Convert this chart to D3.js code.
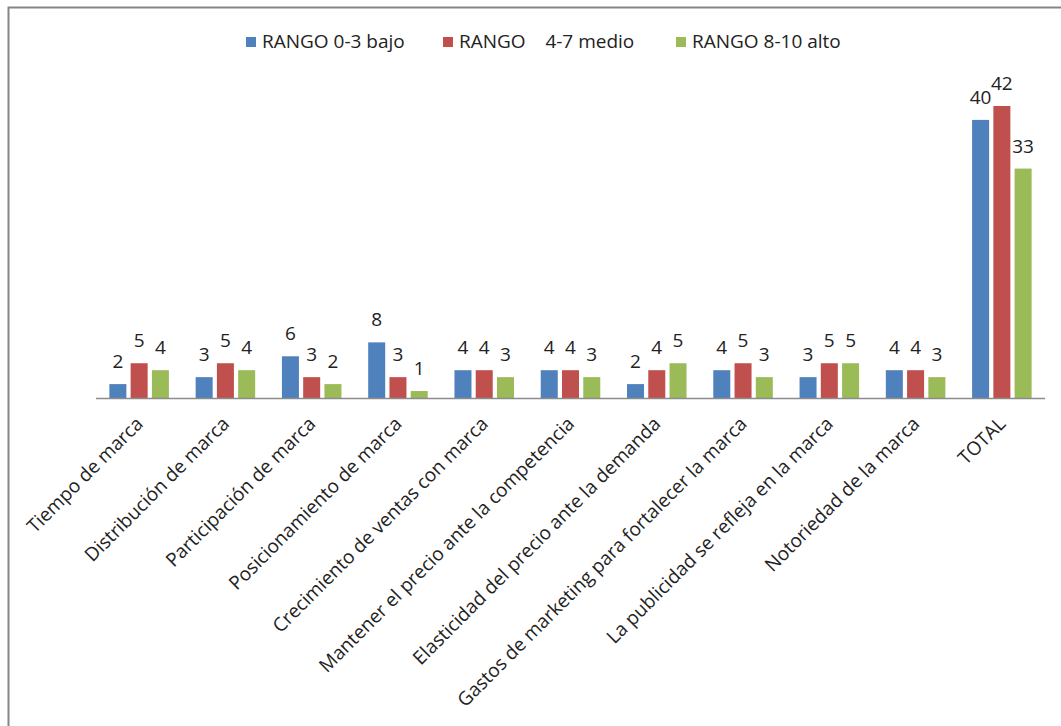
<!DOCTYPE html>
<html>
<head>
<meta charset="utf-8">
<script src="https://cdn.jsdelivr.net/npm/d3@7"></script>
<style>
  body { margin: 0; background: #fff; }
  svg text { font-family: "Open Sans", Lato, sans-serif; fill: #222; }
</style>
</head>
<body>
<svg id="chart" width="1061" height="726"></svg>
<script>
/*** DATA ***/
var categories = ['Tiempo de marca', 'Distribución de marca', 'Participación de marca',
  'Posicionamiento de marca', 'Crecimiento de ventas con marca',
  'Mantener el precio ante la competencia', 'Elasticidad del precio ante la demanda',
  'Gastos de marketing para fortalecer la marca', 'La publicidad se refleja en la marca',
  'Notoriedad de la marca', 'TOTAL'];
var seriesNames = ['RANGO 0-3 bajo', 'RANGO    4-7 medio', 'RANGO 8-10 alto'];
var bajo  = [2, 3, 6, 8, 4, 4, 2, 4, 3, 4, 40];
var medio = [5, 5, 3, 3, 4, 4, 4, 5, 5, 4, 42];
var alto  = [4, 4, 2, 1, 3, 3, 5, 3, 5, 3, 33];
var seriesValues = [bajo, medio, alto];
var colors = ['#4F81BD', '#C0504D', '#9BBB59'];

var svg = d3.select('#chart');

//frame
svg.append('rect')
  .attr('x', 8.5).attr('y', 7.5)
  .attr('width', 1100).attr('height', 800)
  .attr('fill', 'none')
  .attr('stroke', '#868686')
  .attr('stroke-width', 2);

//scales
var x0 = d3.scaleBand().domain(categories).range([96, 1045]).paddingInner(0.31).paddingOuter(0.155);
var x1 = d3.scaleBand().domain(d3.range(3)).range([0, x0.bandwidth()]).paddingInner(0.2);
var y = d3.scaleLinear().domain([0, 42]).range([398, 106]);

//bars
var groups = svg.append('g').selectAll('g')
  .data(categories)
  .join('g')
  .attr('transform', function(d) { return 'translate(' + x0(d) + ',0)'; });

groups.selectAll('rect')
  .data(function(d, i) { return seriesValues.map(function(s, k) { return {k: k, v: s[i]}; }); })
  .join('rect')
  .attr('x', function(d) { return x1(d.k); })
  .attr('width', x1.bandwidth())
  .attr('y', function(d) { return y(d.v); })
  .attr('height', function(d) { return y(0) - y(d.v); })
  .attr('fill', function(d) { return colors[d.k]; });

//data labels
groups.selectAll('text')
  .data(function(d, i) { return seriesValues.map(function(s, k) { return {k: k, v: s[i]}; }); })
  .join('text')
  .attr('x', function(d) { return x1(d.k) + x1.bandwidth() / 2; })
  .attr('y', function(d) { return y(d.v) - 16; })
  .attr('text-anchor', 'middle')
  .style('font-size', '19px')
  .text(function(d) { return d.v; });

//baseline
svg.append('line')
  .attr('x1', 96).attr('x2', 1045)
  .attr('y1', 398.5).attr('y2', 398.5)
  .attr('stroke', '#8c8c8c')
  .attr('stroke-width', 1.5);

//category labels
svg.append('g').selectAll('text')
  .data(categories)
  .join('text')
  .attr('text-anchor', 'end')
  .attr('transform', function(d) {
    return 'translate(' + (x0(d) + x0.bandwidth() / 2 + 5) + ',425) rotate(-45)';
  })
  .style('font-size', '19px')
  .text(function(d) { return d; });

//legend
var legendX = [246, 443, 676];
var legend = svg.append('g').selectAll('g')
  .data(seriesNames)
  .join('g')
  .attr('transform', function(d, i) { return 'translate(' + legendX[i] + ',37)'; });

legend.append('rect')
  .attr('width', 10).attr('height', 10)
  .attr('fill', function(d, i) { return colors[i]; });

legend.append('text')
  .attr('x', 16).attr('y', 11)
  .attr('xml:space', 'preserve')
  .style('white-space', 'pre')
  .style('font-size', '19px')
  .text(function(d) { return d; });
</script>
</body>
</html>
